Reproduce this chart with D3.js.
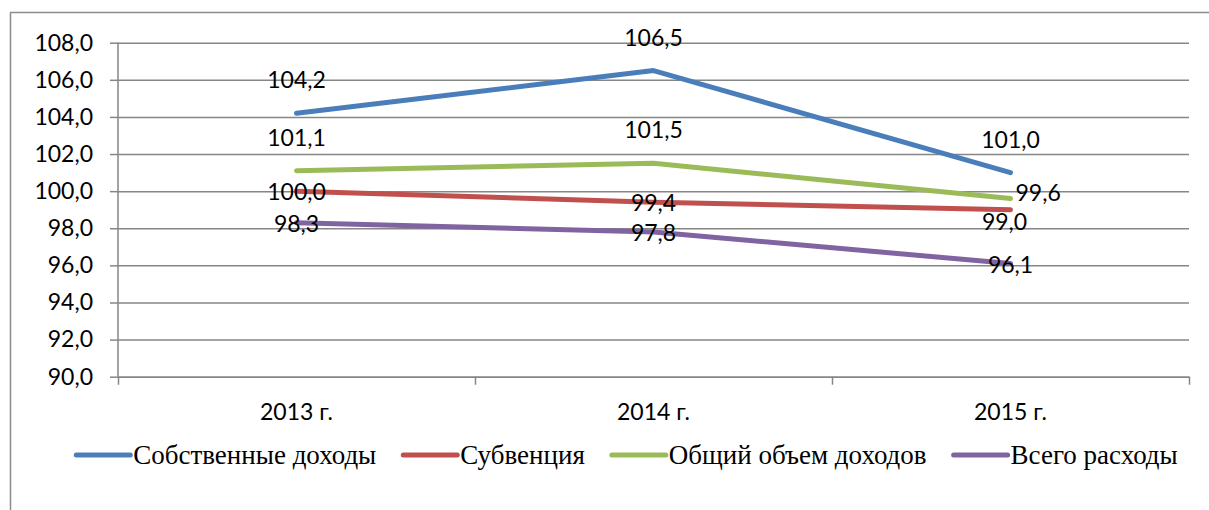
<!DOCTYPE html>
<html>
<head>
<meta charset="utf-8">
<script src="https://cdn.jsdelivr.net/npm/d3@7"></script>
<style>
  body { margin: 0; padding: 0; background: #fff; overflow: hidden; }
</style>
</head>
<body>
<script>
  // data
  const years = ["2013 г.", "2014 г.", "2015 г."];
  const seriesNames = ["Собственные доходы", "Субвенция", "Общий объем доходов", "Всего расходы"];
  const ownIncome = [104.2, 106.5, 101.0];
  const subvention = [100.0, 99.4, 99.0];
  const totalIncome = [101.1, 101.5, 99.6];
  const totalExpense = [98.3, 97.8, 96.1];
  const yTicks = [90, 92, 94, 96, 98, 100, 102, 104, 106, 108];

  const seriesValues = [ownIncome, subvention, totalIncome, totalExpense];
  const colors = ["#4a7ebb", "#c0504d", "#9bbb59", "#8064a2"];
  // where each data label sits relative to its point
  const labelPlace = [
    ["above", "above", "above"],
    ["center", "center", "below"],
    ["above", "above", "right"],
    ["center", "center", "center"]
  ];

  const width = 1209, height = 510;
  const plot = {left: 118, right: 1189, top: 42.7, bottom: 376.7};
  const sans = "Lato, 'Open Sans', sans-serif";
  const serif = "'Liberation Serif', 'DejaVu Serif', serif";

  const svg = d3.select("body").append("svg")
    .attr("width", width)
    .attr("height", height);

  // outer frame
  svg.append("rect")
    .attr("x", 10.5).attr("y", 12.5)
    .attr("width", 1230).attr("height", 530)
    .attr("fill", "none")
    .attr("stroke", "#8c8c8c")
    .attr("stroke-width", 1.5);

  const x = d3.scaleBand().domain(years).range([plot.left, plot.right]).padding(0);
  const cx = d => x(d) + x.bandwidth() / 2;
  const y = d3.scaleLinear().domain([90, 108]).range([plot.bottom, plot.top]);
  const fmt = v => d3.format(".1f")(v).replace(".", ",");

  // gridlines + y axis
  const yAxis = svg.append("g")
    .attr("transform", `translate(${plot.left},0)`)
    .call(d3.axisLeft(y).tickValues(yTicks).tickSize(8).tickPadding(17).tickFormat(fmt));
  yAxis.select(".domain").attr("stroke", "#868686").attr("stroke-width", 1.5)
    .attr("d", `M0,${plot.top}V${plot.bottom}`);
  yAxis.selectAll(".tick line").attr("stroke", "#868686").attr("stroke-width", 1.5);
  yAxis.selectAll(".tick").append("line")
    .attr("x2", plot.right - plot.left)
    .attr("stroke", "#868686").attr("stroke-width", 1.5);
  yAxis.selectAll(".tick text")
    .attr("font-family", sans).attr("font-size", 23).attr("fill", "#000");

  // x axis with ticks at band edges
  const edges = d3.scaleLinear().domain([0, years.length]).range([plot.left, plot.right]);
  const xAxis = svg.append("g")
    .attr("transform", `translate(0,${plot.bottom})`)
    .call(d3.axisBottom(edges).tickValues(d3.range(years.length + 1)).tickSize(8).tickSizeOuter(0).tickFormat(""));
  xAxis.select(".domain").attr("stroke", "#868686").attr("stroke-width", 1.5);
  xAxis.selectAll(".tick line").attr("stroke", "#868686").attr("stroke-width", 1.5);

  svg.append("g").selectAll("text")
    .data(years)
    .enter().append("text")
    .attr("x", d => cx(d))
    .attr("y", 412)
    .attr("dy", "0.35em")
    .attr("text-anchor", "middle")
    .attr("font-family", sans).attr("font-size", 23)
    .text(d => d);

  // lines
  const line = d3.line()
    .x((d, i) => cx(years[i]))
    .y(d => y(d));

  svg.append("g").selectAll("path")
    .data(seriesValues)
    .enter().append("path")
    .attr("d", d => line(d))
    .attr("fill", "none")
    .attr("stroke", (d, i) => colors[i])
    .attr("stroke-width", 5)
    .attr("stroke-linecap", "round")
    .attr("stroke-linejoin", "round");

  // data labels
  seriesValues.forEach((vals, s) => {
    svg.append("g").selectAll("text")
      .data(vals)
      .enter().append("text")
      .attr("x", (d, i) => {
        const p = labelPlace[s][i];
        if (p === "right") return cx(years[i]) + 5;
        if (p === "below") return cx(years[i]) - 6;
        return cx(years[i]);
      })
      .attr("y", (d, i) => {
        const p = labelPlace[s][i];
        if (p === "above") return y(d) - 33;
        if (p === "below") return y(d) + 12;
        if (p === "right") return y(d) - 6;
        return y(d) + 1;
      })
      .attr("dy", "0.35em")
      .attr("text-anchor", (d, i) => labelPlace[s][i] === "right" ? "start" : "middle")
      .attr("font-family", sans).attr("font-size", 23)
      .text(d => fmt(d));
  });

  // legend
  const legend = svg.append("g");
  const lineLen = 56, gapText = 2, gapItem = 26;
  let lx = 0;
  seriesNames.forEach((name, i) => {
    const g = legend.append("g");
    g.append("line")
      .attr("x1", lx + 1).attr("x2", lx + lineLen - 1)
      .attr("y1", 0).attr("y2", 0)
      .attr("stroke", colors[i]).attr("stroke-width", 5)
      .attr("stroke-linecap", "round");
    const t = g.append("text")
      .attr("x", lx + lineLen + gapText)
      .attr("y", 0)
      .attr("dy", "0.33em")
      .attr("font-family", serif).attr("font-size", 27)
      .text(name);
    lx += lineLen + gapText + t.node().getComputedTextLength() + gapItem;
  });
  const legendW = lx - gapItem;
  legend.attr("transform", `translate(${(78 + 1175) / 2 - legendW / 2},455)`);
</script>
</body>
</html>
